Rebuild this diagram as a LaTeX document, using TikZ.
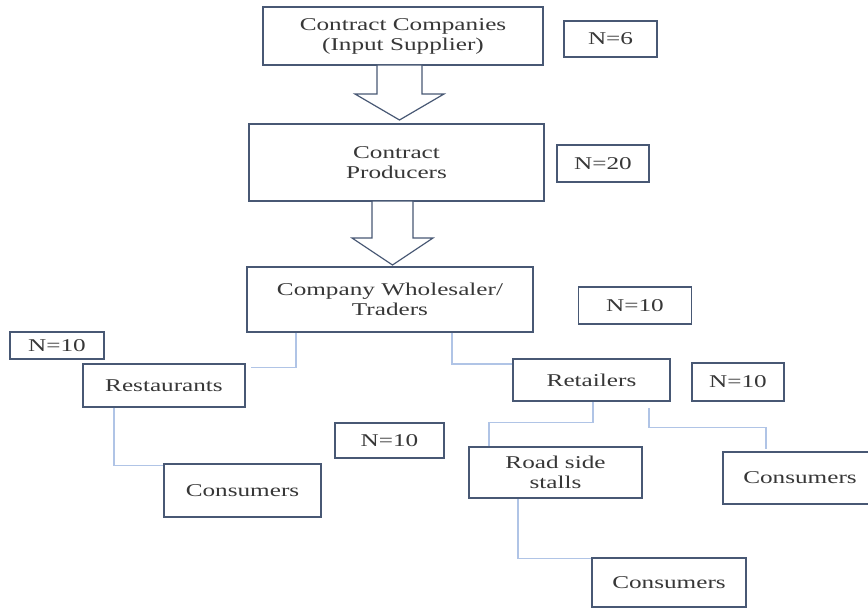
\documentclass[tikz,border=0pt]{standalone}
\usepackage{fontspec}
\setmainfont{Liberation Serif}[FakeStretch=1.4]
\begin{document}
\begin{tikzpicture}[x=1pt,y=-1pt,
  every node/.style={font=\fontsize{18}{20}\selectfont, text=txtc},
  box/.style={draw=boxc, line width=1.5pt, fill=white, inner sep=0pt, align=center, minimum width=#1},
  conn/.style={draw=connc, line width=1.3pt},
  blockarrow/.style={draw=boxc, line width=1.2pt, fill=white, line join=miter}]
\definecolor{boxc}{RGB}{72,88,116}
\definecolor{connc}{RGB}{176,196,230}
\definecolor{txtc}{RGB}{55,55,55}
\useasboundingbox (0,0) rectangle (868,610);
\clip (0,0) rectangle (868,610);
% boxes
\node[box=280pt, minimum height=58pt] (cc) at (403,36) {Contract Companies\\(Input Supplier)};
\node[box=93pt, minimum height=36pt] (n6) at (610.5,39) {N=6};
\node[box=295pt, minimum height=77pt] (cp) at (396.5,162.5) {Contract\\Producers};
\node[box=92pt, minimum height=37pt] (n20) at (603,163.5) {N=20};
\node[box=286pt, minimum height=65pt] (ws) at (390,299.5) {Company Wholesaler/\\Traders};
\node[box=113pt, minimum height=37pt] (n10a) at (635,305.5) {N=10};
\node[box=94pt, minimum height=27pt] (n10l) at (57,345.5) {N=10};
\node[box=162pt, minimum height=43pt] (rest) at (164,385.5) {Restaurants};
\node[box=109pt, minimum height=35pt] (n10m) at (389.5,440.5) {N=10};
\node[box=157pt, minimum height=53pt] (cons1) at (242.5,490.5) {Consumers};
\node[box=157pt, minimum height=42pt] (ret) at (591.5,380) {Retailers};
\node[box=92pt, minimum height=38pt] (n10r) at (738,382) {N=10};
\node[box=173pt, minimum height=51pt] (road) at (555.5,472.5) {Road side\\stalls};
\node[box=154pt, minimum height=52pt] (consR) at (800,478) {Consumers};
\node[box=154pt, minimum height=49pt] (consB) at (669,582.5) {Consumers};
% block arrows
\draw[blockarrow] (377,65) -- (422,65) -- (422,94) -- (444,94) -- (399.5,120) -- (355,94) -- (377,94) -- cycle;
\draw[blockarrow] (372,201) -- (413,201) -- (413,238) -- (433,238) -- (392.5,265) -- (352,238) -- (372,238) -- cycle;
% connectors
\draw[conn] ([xshift=-94pt]ws.south) |- ([shift={(5,4)}]rest.north east);
\draw[conn] ([xshift=62pt]ws.south) |- ([yshift=16pt]ret.west);
\draw[conn] ([xshift=-50pt]rest.south) |- ([yshift=-2pt]cons1.north west);
\draw[conn] ([xshift=1.5pt]ret.south) -- ++(0,21) -| ([xshift=-66.5pt]road.north);
\draw[conn] ([shift={(57.5,6)}]ret.south) -- ++(0,20) -| ([shift={(-34,-2)}]consR.north);
\draw[conn] ([xshift=-37.5pt]road.south) |- ([yshift=-1pt]consB.north west);
\end{tikzpicture}
\end{document}
